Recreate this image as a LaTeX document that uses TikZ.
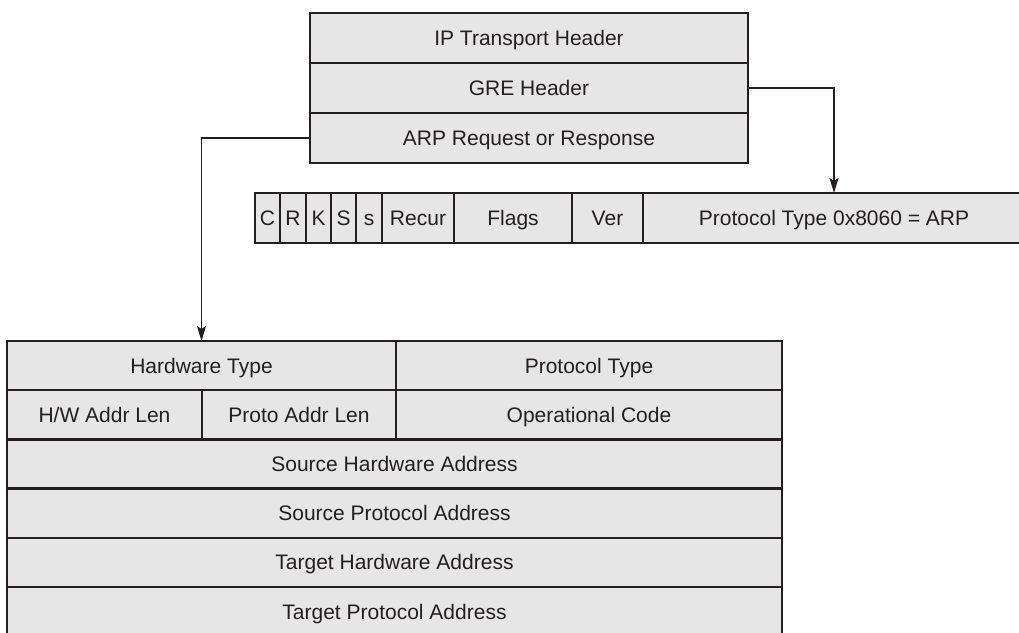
\documentclass[tikz,border=0pt]{standalone}
\usepackage{fontspec}
\setmainfont{Liberation Sans}
\usetikzlibrary{arrows.meta,positioning}
\definecolor{cellfill}{HTML}{E6E6E6}
\definecolor{ink}{HTML}{231F20}

\begin{document}
\begin{tikzpicture}[
  x=1pt,y=-1pt,
  font=\fontsize{21}{25}\selectfont,
  node distance=0pt,
  cell/.style={draw=ink,line width=2.5pt,fill=cellfill,text=ink,
               inner sep=0pt,outer sep=0pt,text height=15pt,text depth=0pt,
               minimum height=#1},
  cell/.default=50pt,
  link/.style={-{Stealth[length=15pt,width=9pt,inset=3pt]},draw=ink,
               line width=1.2pt}
]
\path[use as bounding box,clip] (0,0) rectangle (1019,632);

% encapsulation
\node[cell,minimum width=438pt] (ip) at (529,38) {IP Transport Header};
\node[cell,minimum width=438pt,below=of ip] (gre) {GRE Header};
\node[cell,minimum width=438pt,below=of gre] (arp) {ARP Request or Response};

% GRE header fields
\node[cell,minimum width=25pt] (c) at (267.5,218) {C};
\node[cell,minimum width=26pt,right=of c] (r) {R};
\node[cell,minimum width=25pt,right=of r] (k) {K};
\node[cell,minimum width=25pt,right=of k] (s) {S};
\node[cell,minimum width=26pt,right=of s] (ss) {s};
\node[cell,minimum width=72pt,right=of ss] (recur) {Recur};
\node[cell,minimum width=118pt,right=of recur] (flags) {Flags};
\node[cell,minimum width=71pt,right=of flags] (ver) {Ver};
\node[cell,minimum width=382pt,right=of ver] (proto) {Protocol Type 0x8060 = ARP};

% ARP packet
\node[cell=49.2pt,minimum width=389pt] (hwtype) at (201.5,365.6) {Hardware Type};
\node[cell=49.2pt,minimum width=386pt,right=of hwtype] (prtype) {Protocol Type};
\node[cell=49.2pt,minimum width=195pt] (hwlen) at (104.5,414.8) {H/W Addr Len};
\node[cell=49.2pt,minimum width=194pt,right=of hwlen] (prlen) {Proto Addr Len};
\node[cell=49.2pt,minimum width=386pt,right=of prlen] (opcode) {Operational Code};
\node[cell=49.2pt,minimum width=775pt] (sha) at (394.5,464) {Source Hardware Address};
\node[cell=49.2pt,minimum width=775pt,below=of sha] (spa) {Source Protocol Address};
\node[cell=49.2pt,minimum width=775pt,below=of spa] (tha) {Target Hardware Address};
\node[cell=49.2pt,minimum width=775pt,below=of tha] (tpa) {Target Protocol Address};

\draw[link] (gre.east) -| (proto.north);
\draw[link] (arp.west) -| (hwtype.north);
\end{tikzpicture}
\end{document}
